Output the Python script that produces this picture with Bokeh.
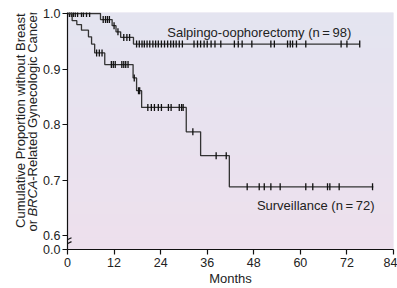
import numpy as np
from bokeh.plotting import figure
from bokeh.layouts import row
from bokeh.models import FixedTicker, BoxAnnotation, Label, Arrow, PrintfTickFormatter, Range1d
from bokeh.embed import file_html
from bokeh.resources import INLINE

# ---------------- data ----------------
SURG_LABEL = "Salpingo-oophorectomy (n\u2009=\u200998)"
SURG_EVENT_MONTHS = [8.5, 11.5, 12.5, 13.7, 17.0]
SURG_EVENT_SURV = [0.989, 0.978, 0.967, 0.957, 0.945]
SURG_LAST_FOLLOWUP = 75.3
SURG_CENSOR_MONTHS = [0.5, 1.0, 1.5, 2.0, 2.6, 3.6, 4.1, 4.9, 5.7,
                      9.2, 9.8, 10.3, 10.8, 12.0, 13.0, 14.5, 15.3, 16.0,
                      17.8, 18.5, 19.2, 19.8, 20.5, 21.2, 22.0, 22.7, 23.4,
                      24.2, 25.0, 25.8, 26.6, 27.3, 28.0, 28.8, 29.6,
                      32.6, 33.5, 34.3, 35.2, 36.0, 37.0, 38.0, 39.5,
                      43.0, 44.0, 45.0, 47.5, 52.4, 53.3, 56.7, 57.4, 58.0,
                      59.0, 61.4, 70.5, 72.0, 75.3]

SURV_LABEL = "Surveillance (n\u2009=\u200972)"
SURV_EVENT_MONTHS = [1.2, 2.4, 3.6, 5.4, 6.2, 7.0, 9.6, 16.9, 17.8, 19.1,
                     30.6, 34.3, 41.7]
SURV_EVENT_SURV = [0.987, 0.980, 0.970, 0.958, 0.945, 0.929, 0.908, 0.884,
                   0.861, 0.831, 0.787, 0.744, 0.688]
SURV_LAST_FOLLOWUP = 78.8
SURV_CENSOR_MONTHS = [7.5, 8.2, 8.9, 11.3, 11.8, 12.3, 14.0, 14.5, 15.0, 15.6,
                      17.2, 18.3, 18.6, 20.7, 21.6, 22.4, 23.4, 24.2, 26.0,
                      26.7, 28.8, 29.4, 29.8, 32.3, 38.3, 40.9,
                      46.3, 49.4, 50.7, 52.4, 54.8, 61.4, 63.2, 67.0, 67.6,
                      70.0, 78.6]

X_TICKS = [0, 12, 24, 36, 48, 60, 72, 84]
Y_TICKS = [0.6, 0.7, 0.8, 0.9, 1.0]
Y_BREAK_TICK_LABEL = "0.0"
Y_TITLE_LINE1 = "Cumulative Proportion without Breast"
Y_TITLE_LINE2 = [("or ", "normal"), ("BRCA", "italic"),
                 ("-Related Gynecologic Cancer", "normal")]

FONT = "Liberation Sans"
INK = "#222222"
LINE = "#333333"

W, H = 397, 288
LEFT_W = 40
TOP_B, BOT_B = 12, 35
PX_PER_UNIT = 565.0
y_start = 0.6 - 14.0 / PX_PER_UNIT     # shown as the broken-axis "0.0"
y_end = 1.0 + 1.0 / PX_PER_UNIT

p = figure(width=W - LEFT_W, height=H, x_range=(0, 84), y_range=(y_start, y_end),
           output_backend="svg", toolbar_location=None, title=None,
           min_border_left=66 - LEFT_W, min_border_right=4, min_border_top=TOP_B,
           min_border_bottom=BOT_B)
p.outline_line_color = None
p.grid.visible = False
p.background_fill_color = "#e8e2ef"
p.border_fill_color = "white"

# gradient background (bluish top -> pinkish bottom)
top_rgb = np.array([228, 228, 240])
bot_rgb = np.array([237, 224, 237])
n_bands = 20
edges = np.linspace(y_end, y_start, n_bands + 1)
for i in range(n_bands):
    f = i / (n_bands - 1)
    r, g, b = (top_rgb * (1 - f) + bot_rgb * f).round().astype(int)
    p.add_layout(BoxAnnotation(top=edges[i], bottom=edges[i + 1],
                               fill_color=f"#{r:02x}{g:02x}{b:02x}",
                               fill_alpha=1.0, line_color=None, level="underlay"))


def surv_at(t, months, surv):
    idx = np.searchsorted(months, t, side="right")
    return 1.0 if idx == 0 else surv[idx - 1]


def draw_curve(months, surv, last, censors):
    xs = [0.0] + list(months) + [last]
    ys = [1.0] + list(surv) + [surv[-1]]
    p.step(xs, ys, mode="after", line_color=LINE, line_width=1.3)
    cy = [surv_at(t, months, surv) for t in censors]
    p.scatter(censors, cy, marker="dash", angle=np.pi / 2, size=7,
              line_color="#111111", line_width=1.3)


draw_curve(SURG_EVENT_MONTHS, SURG_EVENT_SURV, SURG_LAST_FOLLOWUP, SURG_CENSOR_MONTHS)
draw_curve(SURV_EVENT_MONTHS, SURV_EVENT_SURV, SURV_LAST_FOLLOWUP, SURV_CENSOR_MONTHS)

# series labels
p.add_layout(Label(x=25.7, y=0.9651, text=SURG_LABEL, text_font=FONT,
                   text_font_size="13px", text_color=INK,
                   text_baseline="alphabetic"))
p.add_layout(Label(x=48.8, y=0.6536, text=SURV_LABEL, text_font=FONT,
                   text_font_size="13px", text_color=INK,
                   text_baseline="alphabetic"))

# axes
p.xaxis.ticker = FixedTicker(ticks=X_TICKS)
p.xaxis.axis_label = "Months"
p.yaxis.ticker = FixedTicker(ticks=[y_start] + Y_TICKS)
p.yaxis.formatter = PrintfTickFormatter(format="%.1f")
p.yaxis.major_label_overrides = {y_start: Y_BREAK_TICK_LABEL}
for ax in (p.xaxis[0], p.yaxis[0]):
    ax.axis_line_color = "#111111"
    ax.axis_line_width = 1.2
    ax.major_tick_line_color = "#111111"
    ax.major_tick_line_width = 1.2
    ax.major_tick_out = 5
    ax.major_tick_in = 0
    ax.minor_tick_line_color = None
    ax.major_label_text_font = FONT
    ax.major_label_text_font_size = "12.5px"
    ax.major_label_text_color = INK
    ax.axis_label_text_font = FONT
    ax.axis_label_text_font_size = "13px"
    ax.axis_label_text_font_style = "normal"
    ax.axis_label_text_color = INK
p.xaxis.major_label_standoff = 3
p.xaxis.axis_label_standoff = 1
p.yaxis.major_label_standoff = 2


# axis break marks
def xdata(page_x):
    return (page_x - 66.0) / (327.0 / 84.0)


def ydata(page_y):
    return 1.0 - (page_y - 13.0) / PX_PER_UNIT


for (y0, y1) in [(245.0, 241.0), (249.0, 245.0)]:
    p.add_layout(Arrow(x_start=xdata(62), y_start=ydata(y0),
                       x_end=xdata(70), y_end=ydata(y1),
                       start=None, end=None, line_color="#111111",
                       line_width=1.2))

# ---------------- left strip holding the two-line rotated y title ----------------
# In a row, the frames are aligned with the main plot's frame (page y 12..253),
# so map that frame directly to page pixel coordinates.
t = figure(width=LEFT_W, height=H, x_range=Range1d(0, LEFT_W),
           y_range=Range1d(H - BOT_B, TOP_B),
           x_axis_type=None, y_axis_type=None,
           output_backend="svg", toolbar_location=None, title=None,
           min_border_left=0, min_border_right=0,
           min_border_top=TOP_B, min_border_bottom=BOT_B)
t.grid.visible = False
t.outline_line_color = None
t.background_fill_color = "white"
t.border_fill_color = "white"

t.add_layout(Label(x=20, y=122, angle=np.pi / 2, text=Y_TITLE_LINE1,
                   text_font=FONT, text_font_size="13px", text_color=INK,
                   text_align="center", text_baseline="middle"))
em = 13.0
widths_em = {"or ": 1.167, "BRCA": 2.8, "-Related Gynecologic Cancer": 13.06}
total = sum(widths_em[s] for s, _ in Y_TITLE_LINE2) * em
start = 124 + total / 2
for txt, style in Y_TITLE_LINE2:
    t.add_layout(Label(x=32, y=start, angle=np.pi / 2, text=txt,
                       text_font=FONT, text_font_size="13px",
                       text_font_style=style, text_color=INK,
                       text_align="left", text_baseline="middle"))
    start -= widths_em[txt] * em

layout = row(t, p, spacing=0)
open("out.html", "w").write(file_html(layout, INLINE))
